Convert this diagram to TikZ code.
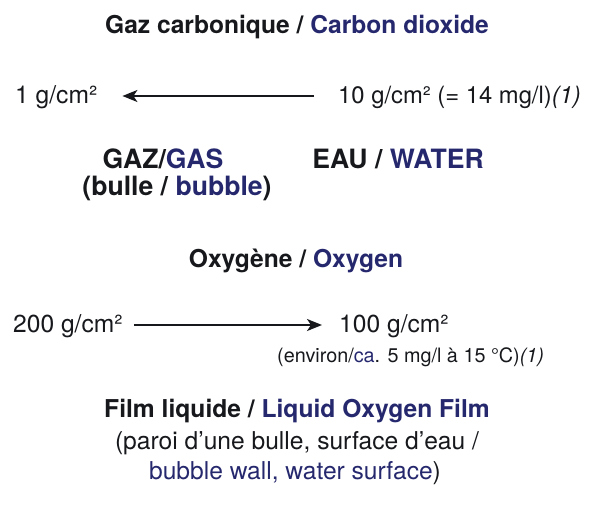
\documentclass[tikz,border=0pt]{standalone}
\usepackage{fontspec}
\setmainfont{TeX Gyre Heros}
\usetikzlibrary{arrows.meta}
\definecolor{engblue}{RGB}{38,40,110}
\definecolor{frblack}{RGB}{22,24,28}
\begin{document}
\begin{tikzpicture}[x=1pt,y=1pt,yscale=-1,xscale=1,
	txt/.style={inner sep=0pt,text=frblack,font=\fontsize{24.6}{29}\selectfont},
	head/.style={txt,font=\fontsize{24.6}{29}\selectfont\bfseries},
	big/.style={txt,font=\fontsize{26.6}{31}\selectfont\bfseries},
	flow/.style={draw=frblack,line width=2pt,-{Stealth[length=15pt,width=12pt,inset=4pt]}}]
	\useasboundingbox (0,0) rectangle (591,505);
	\node (co2) at (297,34) [head,anchor=base] {Gaz carbonique / \textcolor{engblue}{Carbon dioxide}};
	\node (one) at (15,104) [txt,anchor=base west] {1 g/cm²};
	\node (ten) at (338,104) [txt,anchor=base west,font=\fontsize{23.8}{29}\selectfont] {10 g/cm² (= 14 mg/l)\textit{(1)}};
	\draw [flow] ([shift={(-24,-8)}]ten.base west) -- ([shift={(25,-8)}]one.base east);
	\node (gas) at (163,168) [big,anchor=base] {GAZ/\textcolor{engblue}{GAS}};
	\node (bub) at (177,196) [big,anchor=base] {(bulle / \textcolor{engblue}{bubble})};
	\node (wat) at (398,168) [big,anchor=base] {EAU / \textcolor{engblue}{WATER}};
	\node (oxy) at (296,267) [head,anchor=base] {Oxygène / \textcolor{engblue}{Oxygen}};
	\node (two) at (13,332) [txt,anchor=base west] {200 g/cm²};
	\node (hun) at (339,332) [txt,anchor=base west] {100 g/cm²};
	\draw [flow] ([shift={(11,-7)}]two.base east) -- ([shift={(-17,-7)}]hun.base west);
	\node (env) at (277,362) [txt,anchor=base west,font=\fontsize{19.8}{24}\selectfont] {(environ/\textcolor{engblue}{ca}. 5 mg/l à 15 °C)\textit{(1)}};
	\node (film) at (297,417) [head,anchor=base] {Film liquide / \textcolor{engblue}{Liquid Oxygen Film}};
	\node (wall) at (297,449) [txt,anchor=base] {(paroi d’une bulle, surface d’eau /};
	\node (surf) at (295,479) [txt,anchor=base] {\textcolor{engblue}{bubble wall, water surface})};
\end{tikzpicture}
\end{document}
